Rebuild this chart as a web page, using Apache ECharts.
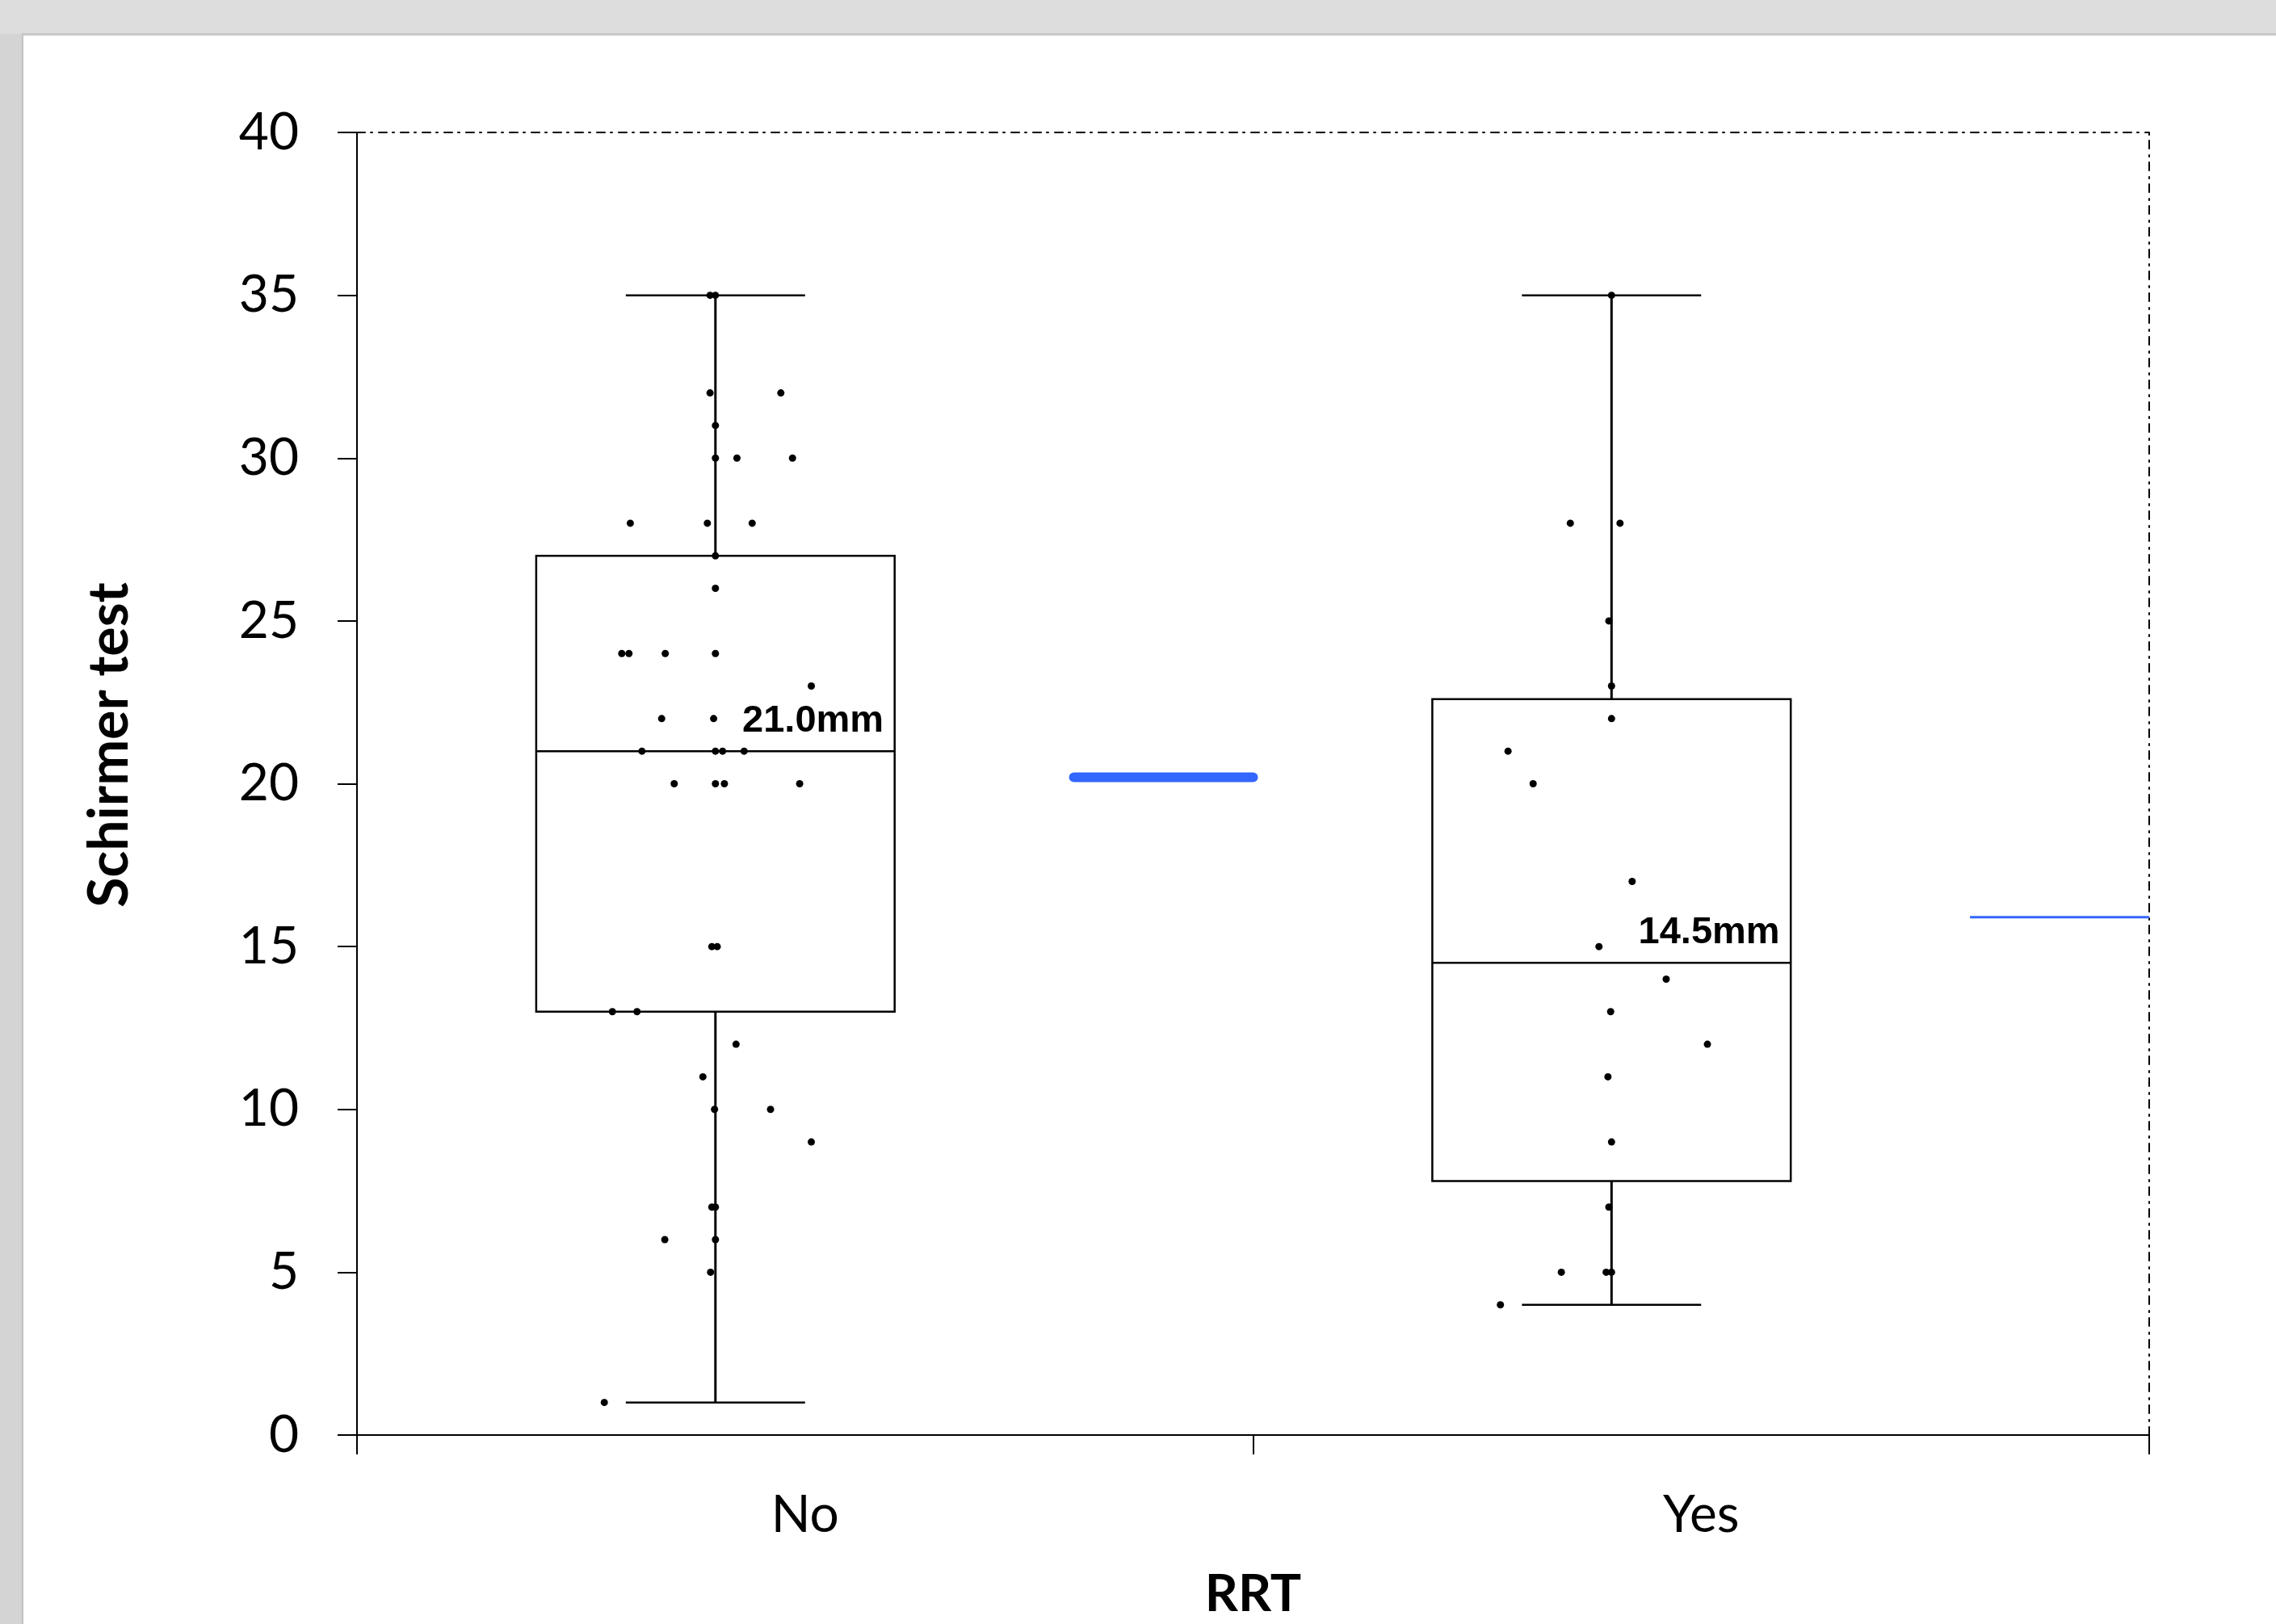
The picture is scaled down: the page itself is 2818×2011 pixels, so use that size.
<!DOCTYPE html>
<html><head><meta charset="utf-8">
<script src="https://cdn.jsdelivr.net/npm/echarts@6/dist/echarts.min.js"></script>
<style>
html,body{margin:0;padding:0;width:2818px;height:2011px;background:#dddddd;overflow:hidden;}
#leftstrip{position:absolute;left:0;top:42px;width:27px;height:1969px;background:#d4d4d4;}
#panel{position:absolute;left:27px;top:41px;width:2791px;height:1970px;background:#ffffff;border-left:2px solid #c2c2c2;border-top:3px solid #c8c8c8;box-sizing:border-box;}
#chart{position:absolute;left:0;top:0;width:2818px;height:2011px;}
</style></head><body>
<div id="leftstrip"></div><div id="panel"></div><div id="chart"></div>
<script>
// ---- data ----
const categories = ['No', 'Yes'];
const yTickValues = [0, 5, 10, 15, 20, 25, 30, 35, 40];

const boxLow    = [1, 4];
const boxQ1     = [13, 7.8];
const boxMedian = [21, 14.5];
const boxQ3     = [27, 22.6];
const boxHigh   = [35, 35];
const medianLabels = ['21.0mm', '14.5mm'];
const means = [20.2, 15.9];

const noValues = [35, 35, 32, 32, 31, 30, 30, 30, 28, 28, 28, 27, 26, 24, 24, 24, 24, 23, 22, 22,
                  21, 21, 21, 21, 20, 20, 20, 20, 15, 15, 13, 13, 12, 11, 10, 10, 9, 7, 7, 6, 6, 5, 1];
const noJitter = [-0.006, 0, -0.006, 0.073, 0, 0, 0.024, 0.086, -0.095, -0.009, 0.041, 0, 0,
                  -0.1045, -0.0965, -0.056, 0, 0.107, -0.06, -0.002,
                  -0.082, 0, 0.008, 0.032, -0.046, 0, 0.01, 0.094, -0.004, 0.002, -0.115, -0.0875,
                  0.023, -0.014, -0.001, 0.0615, 0.107, -0.004, 0, -0.0565, 0, -0.0054, -0.124];
const yesValues = [35, 28, 28, 25, 23, 22, 21, 20, 17, 15, 14, 13, 12, 11, 9, 7, 5, 5, 5, 4];
const yesJitter = [0, -0.046, 0.0095, -0.003, 0, 0, -0.1155, -0.0875, 0.023, -0.014, 0.061,
                   -0.001, 0.107, -0.004, 0, -0.003, -0.056, -0.006, 0, -0.124];

// ---- layout / style constants ----
const BOX_POS = 0.4, BOX_HALF = 0.2, CAP_HALF = 0.1;
const MEAN_FROM = 0.8, MEAN_TO = 1.0;
const meanWidths = [12, 3];
const FONT = 'Lato';

const boxData = categories.map((c, i) => [i + BOX_POS, boxLow[i], boxQ1[i], boxMedian[i], boxQ3[i], boxHigh[i]]);
const noPts = noValues.map((v, k) => [0 + BOX_POS + noJitter[k], v]);
const yesPts = yesValues.map((v, k) => [1 + BOX_POS + yesJitter[k], v]);
const meanData = categories.map((c, i) => [i, means[i]]);

const chart = echarts.init(document.getElementById('chart'), null, {renderer: 'canvas'});

function renderBox(params, api) {
  const i = params.dataIndex;
  const c = api.value(0);
  const lo = api.value(1), q1 = api.value(2), md = api.value(3), q3 = api.value(4), hi = api.value(5);
  const P = (x, y) => api.coord([x, y]);
  const xc = P(c, 0)[0], xl = P(c - BOX_HALF, 0)[0], xr = P(c + BOX_HALF, 0)[0];
  const cl = P(c - CAP_HALF, 0)[0], cr = P(c + CAP_HALF, 0)[0];
  const yLo = P(c, lo)[1], yQ1 = P(c, q1)[1], yMd = P(c, md)[1], yQ3 = P(c, q3)[1], yHi = P(c, hi)[1];
  const ls = {stroke: '#000', lineWidth: 2.5, fill: null};
  return {type: 'group', children: [
    {type: 'line', shape: {x1: xc, y1: yQ3, x2: xc, y2: yHi}, style: {stroke: '#000', lineWidth: 3}},
    {type: 'line', shape: {x1: xc, y1: yQ1, x2: xc, y2: yLo}, style: {stroke: '#000', lineWidth: 3}},
    {type: 'line', shape: {x1: cl, y1: yHi, x2: cr, y2: yHi}, style: {stroke: '#000', lineWidth: 2.5}},
    {type: 'line', shape: {x1: cl, y1: yLo, x2: cr, y2: yLo}, style: {stroke: '#000', lineWidth: 2.5}},
    {type: 'rect', shape: {x: xl, y: yQ3, width: xr - xl, height: yQ1 - yQ3}, style: ls},
    {type: 'line', shape: {x1: xl, y1: yMd, x2: xr, y2: yMd}, style: {stroke: '#000', lineWidth: 2.5}},
    {type: 'text', style: {text: medianLabels[i], x: P(c + 0.03, md)[0], y: yMd - 14,
      font: 'bold 47px "Liberation Sans", Arial, sans-serif', fill: '#000', align: 'left', verticalAlign: 'bottom'}}
  ]};
}

function renderMean(params, api) {
  const i = params.dataIndex;
  const cat = api.value(0), m = api.value(1);
  const a = api.coord([cat + MEAN_FROM, m]), b = api.coord([cat + MEAN_TO, m]);
  return {type: 'line', shape: {x1: a[0], y1: a[1], x2: b[0], y2: b[1]},
    style: {stroke: '#3366ff', lineWidth: meanWidths[i], lineCap: i === 0 ? 'round' : 'butt'}};
}

const dashBorder = {show: true, onZero: false, lineStyle: {color: '#000', width: 2, type: [10, 7, 2, 8]}};

chart.setOption({
  animation: false,
  backgroundColor: 'transparent',
  grid: {left: 442, top: 164, right: 157, bottom: 234, containLabel: false},
  xAxis: [
    {type: 'category', data: categories, position: 'bottom', boundaryGap: true,
     axisLine: {show: true, onZero: false, lineStyle: {color: '#000', width: 2}},
     axisTick: {show: true, length: 24, lineStyle: {color: '#000', width: 2}},
     axisLabel: {fontFamily: FONT, fontSize: 64, color: '#000', margin: 67},
     splitLine: {show: false},
     name: 'RRT', nameLocation: 'middle', nameGap: 165,
     nameTextStyle: {fontFamily: FONT, fontWeight: 'bold', fontSize: 64, color: '#000'}},
    {type: 'value', min: 0, max: 2, position: 'top',
     axisLine: dashBorder, axisTick: {show: false}, axisLabel: {show: false}, splitLine: {show: false}}
  ],
  yAxis: [
    {type: 'value', min: yTickValues[0], max: yTickValues[yTickValues.length - 1], interval: yTickValues[1] - yTickValues[0],
     position: 'left',
     axisLine: {show: true, onZero: false, lineStyle: {color: '#000', width: 2}},
     axisTick: {show: true, length: 24, lineStyle: {color: '#000', width: 2}},
     axisLabel: {fontFamily: FONT, fontSize: 64, color: '#000', margin: 72},
     splitLine: {show: false},
     name: 'Schirmer test', nameLocation: 'middle', nameRotate: 90, nameGap: 272,
     nameTextStyle: {fontFamily: FONT, fontWeight: 'bold', fontSize: 68, color: '#000', padding: [0, 0, 0, 96]}},
    {type: 'value', min: 0, max: 40, position: 'right',
     axisLine: dashBorder, axisTick: {show: false}, axisLabel: {show: false}, splitLine: {show: false}}
  ],
  series: [
    {type: 'custom', name: 'box', xAxisIndex: 1, yAxisIndex: 0, renderItem: renderBox,
     data: boxData, encode: {x: 0, y: [1, 2, 3, 4, 5]}, z: 2, clip: false},
    {type: 'scatter', name: 'No', xAxisIndex: 1, yAxisIndex: 0, data: noPts,
     symbol: 'circle', symbolSize: 9, itemStyle: {color: '#000', opacity: 1}, z: 3},
    {type: 'scatter', name: 'Yes', xAxisIndex: 1, yAxisIndex: 0, data: yesPts,
     symbol: 'circle', symbolSize: 9, itemStyle: {color: '#000', opacity: 1}, z: 3},
    {type: 'custom', name: 'mean', xAxisIndex: 1, yAxisIndex: 0, renderItem: renderMean,
     data: meanData, encode: {x: 0, y: 1}, z: 4, clip: false}
  ]
});
</script>
</body></html>
